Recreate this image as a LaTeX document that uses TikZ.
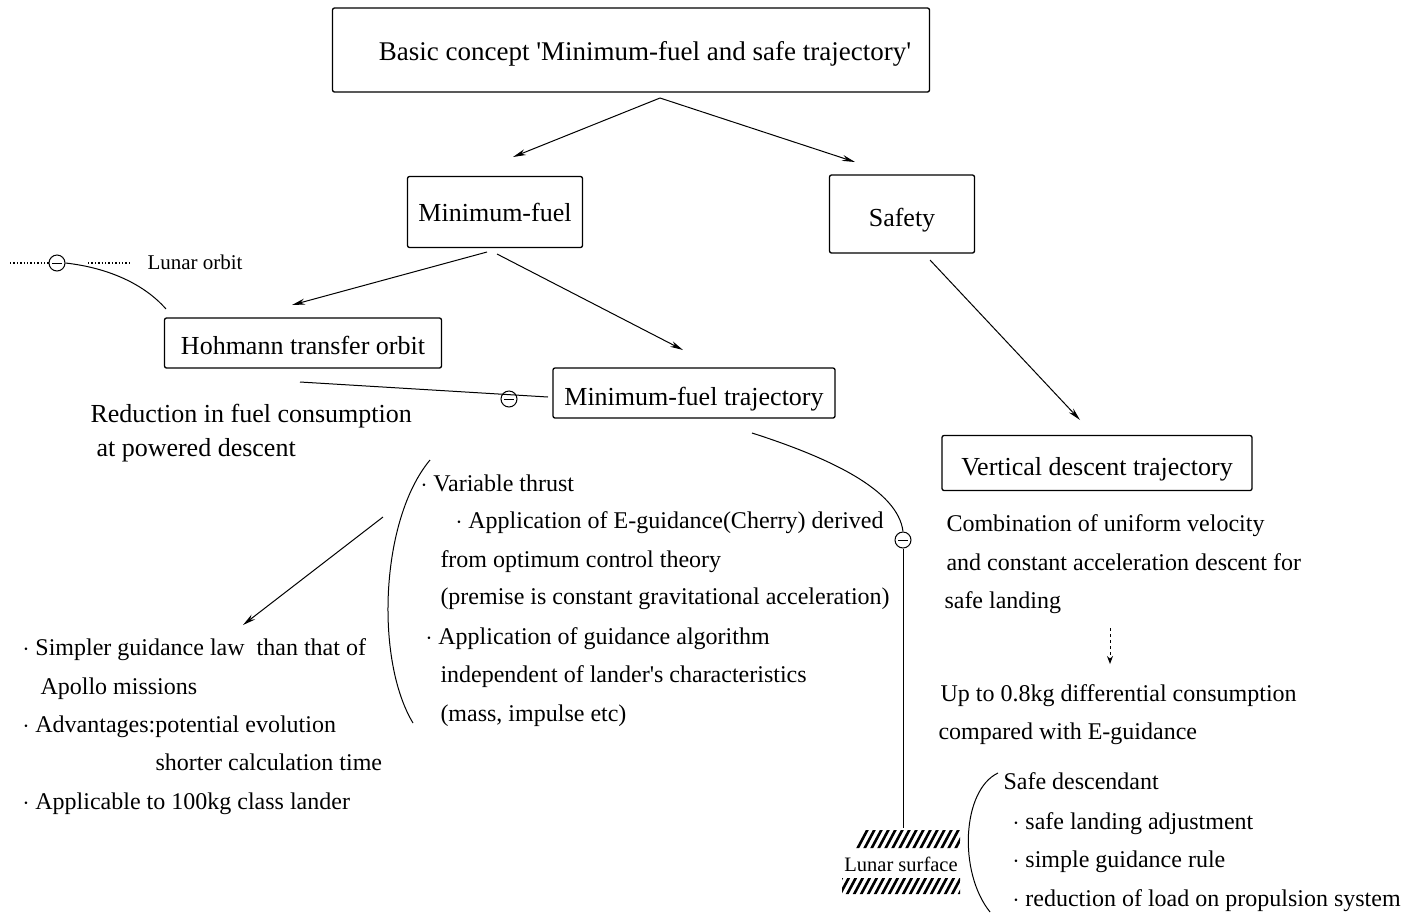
\documentclass[tikz,border=0pt]{standalone}
\usepackage{fontspec}
\setmainfont{Liberation Serif}
\usetikzlibrary{arrows.meta}
\begin{document}
\begin{tikzpicture}[x=1pt,y=-1pt,line width=1pt,
  box/.style={draw,line width=1.3pt,rounded corners=2pt,inner sep=0pt,font=\fontsize{26}{30}\selectfont},
  low/.style={text height=25pt,text depth=0pt},
  txt/.style={anchor=base west,inner sep=0pt,font=\fontsize{24}{28}\selectfont},
  big/.style={anchor=base west,inner sep=0pt,font=\fontsize{26}{30}\selectfont},
  arr/.style={-{Stealth[length=13pt,width=6pt]}},
  ring/.style={draw,circle,minimum size=15pt,inner sep=0pt,line width=1pt,
    path picture={\draw ([xshift=3pt]path picture bounding box.west) -- ([xshift=-3pt]path picture bounding box.east);}}]
\useasboundingbox (0,0) rectangle (1422,914);
% boxes
\node[box,minimum width=597,minimum height=84] (top) at (631,50) {};
\node[inner sep=0pt,font=\fontsize{27}{30}\selectfont,text height=21pt,text depth=0pt] (toptxt) at (645,50) {Basic concept \textquotesingle Minimum-fuel and safe trajectory\textquotesingle};
\node[box,minimum width=175,minimum height=71] (mf) at (495,212) {Minimum-fuel};
\node[box,low,minimum width=145,minimum height=78] (safe) at (902,214) {Safety};
\node[box,text height=22pt,text depth=0pt,minimum width=277,minimum height=50] (hoh) at (303,343) {Hohmann transfer orbit};
\node[box,low,minimum width=282,minimum height=50] (mft) at (694,393) {Minimum-fuel trajectory};
\node[box,low,minimum width=310,minimum height=55] (vdt) at (1097,463) {Vertical descent trajectory};
% arrows between boxes
\coordinate (t0) at (660,98);
\coordinate (a1) at (513,157);
\coordinate (a2) at (855,162);
\draw[arr] (t0) -- (a1);
\draw[arr] (t0) -- (a2);
\coordinate (m0) at (487,252);
\coordinate (m1) at (497,254);
\coordinate (a3) at (292,305);
\coordinate (a4) at (683,350);
\draw[arr] (m0) -- (a3);
\draw[arr] (m1) -- (a4);
\coordinate (s0) at (930,260);
\coordinate (a5) at (1080,420);
\draw[arr] (s0) -- (a5);
% lunar orbit
\node[ring,minimum size=16pt] (lo) at (57,263) {};
\draw[dotted,line width=1.4pt] (10,263) -- (lo.west);
\coordinate (lod) at (130,263);
\draw[dotted,line width=1.4pt] (88,263) -- (lod);
\node[anchor=west,inner sep=0pt,font=\fontsize{21}{24}\selectfont] (lotxt) at (147,262) {Lunar orbit};
\coordinate (hohtl) at (166,309);
\draw (lo.east) .. controls (110,268) and (145,285) .. (hohtl);
% Hohmann to min-fuel trajectory
\coordinate (h0) at (300,382);
\coordinate (h1) at (548,397);
\node[ring,minimum size=16pt] (hr) at (509,399) {};
\draw (h0) -- (h1);
% min-fuel traj to lunar surface
\coordinate (c0) at (752,433);
\node[ring,minimum size=16pt] (lr) at (903,540) {};
\draw (c0) .. controls (830,458) and (898,490) .. (lr.north);
\coordinate (ls) at (903,828);
\draw (lr.south) -- (ls);
% lunar surface
\begin{scope}
\clip (842,830) rectangle (960,848) (842,878) rectangle (960,894);
\foreach \i in {0,7,...,150} {\draw[line width=2.6pt] (830+\i,900) -- (830+\i+40,825);}
\end{scope}
\node[inner sep=0pt,font=\fontsize{20.5}{24}\selectfont] (lstxt) at (901,864) {Lunar surface};
% left texts
\node[big] (r1) at (90,422) {Reduction in fuel consumption};
\node[big] (r2) at (96,456) {at powered descent};
\coordinate (b0) at (383,517);
\coordinate (b1) at (243,625);
\draw[arr] (b0) -- (b1);
\node[txt] (l1) at (22,655) {$\cdot$ Simpler guidance law\ \ than that of};
\node[txt] (l2) at (40,694) {Apollo missions};
\node[txt] (l3) at (22,732) {$\cdot$ Advantages:potential evolution};
\node[txt] (l4) at (155,770) {shorter calculation time};
\node[txt] (l5) at (22,809) {$\cdot$ Applicable to 100kg class lander};
% middle bracket list
\coordinate (k0) at (430,460);
\coordinate (k1) at (413,723);
\draw (k0) .. controls (380,520) and (375,660) .. (k1);
\node[txt] (v1) at (420,491) {$\cdot$ Variable thrust};
\node[txt] (v2) at (455,528) {$\cdot$ Application of E-guidance(Cherry) derived};
\node[txt] (v3) at (440,567) {from optimum control theory};
\node[txt] (v4) at (440,604) {(premise is constant gravitational acceleration)};
\node[txt] (v5) at (425,644) {$\cdot$ Application of guidance algorithm};
\node[txt] (v6) at (440,682) {independent of lander\textquotesingle s characteristics};
\node[txt] (v7) at (440,721) {(mass, impulse etc)};
% right texts
\node[txt] (c1) at (946,531) {Combination of uniform velocity};
\node[txt] (c2) at (946,570) {and constant acceleration descent for};
\node[txt] (c3) at (944,608) {safe landing};
\coordinate (d0) at (1110,628);
\coordinate (d1) at (1110,664);
\draw[dashed,-{Stealth[length=8pt,width=6pt]}] (d0) -- (d1);
\node[txt] (u1) at (940,701) {Up to 0.8kg differential consumption};
\node[txt] (u2) at (938,739) {compared with E-guidance};
\coordinate (e0) at (998,773);
\coordinate (e1) at (990,912);
\draw (e0) .. controls (962,790) and (958,872) .. (e1);
\node[txt] (s1) at (1003,789) {Safe descendant};
\node[txt] (s2) at (1012,829) {$\cdot$ safe landing adjustment};
\node[txt] (s3) at (1012,867) {$\cdot$ simple guidance rule};
\node[txt] (s4) at (1012,906) {$\cdot$ reduction of load on propulsion system};
\end{tikzpicture}
\end{document}
